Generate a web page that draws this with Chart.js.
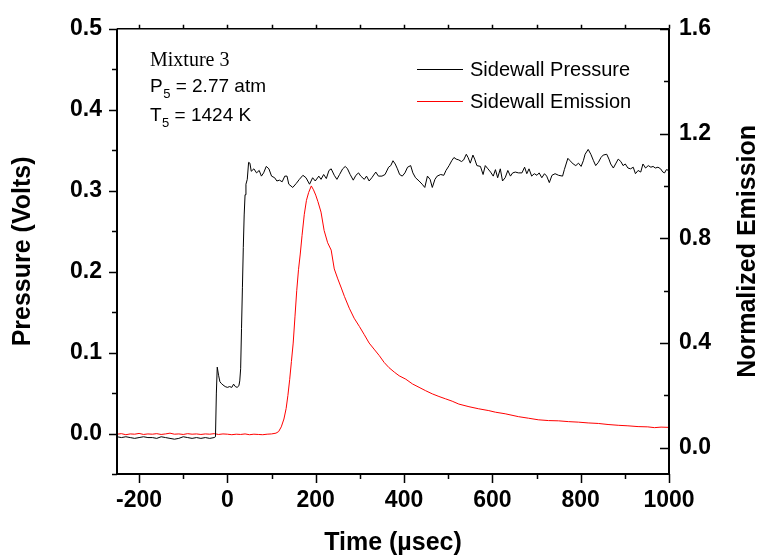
<!DOCTYPE html>
<html>
<head>
<meta charset="utf-8">
<script src="https://cdn.jsdelivr.net/npm/chart.js@4.4.1/dist/chart.umd.min.js"></script>
<style>
    html, body { margin: 0; padding: 0; background: #fff; }
</style>
</head>
<body>
<canvas id="shockChart" width="761" height="555"></canvas>
<script>
// 压力信号 (Volts)
const pressureTime = [-250,-240,-230,-220,-210,-200,-190,-180,-170,-160,-150,-140,-130,-120,-110,-100,-90,-80,-70,-60,-50,-40,-30,-27,
    -25,-23,-20,-17,-14,-10,-5,0,5,10,14,18,22,26,28,30,32,34,36,38,40,42,45,48,51,54,
    60,66,72,77,82,88,94,100,107,112,118,124,130,135,139,148,156,163,171,178,186,193,199,207,212,218,224,230,235,242,248,254,
    261,267,272,278,285,291,297,302,310,315,321,327,336,342,350,357,365,370,375,380,385,390,396,402,408,415,420,426,434,441,
    447,453,459,464,470,475,483,490,495,502,508,513,518,524,530,535,541,545,550,556,560,565,573,579,584,590,596,602,607,612,
    618,623,629,635,641,646,652,659,667,673,678,683,689,695,701,706,712,718,723,729,735,742,750,759,763,771,776,783,789,795,
    801,806,810,817,823,829,834,840,846,851,859,864,868,874,879,885,891,896,901,907,913,919,924,930,936,941,947,953,959,964,
    969,975,981,986,990,994,1000];
const pressureVolts = [-0.004,-0.005,-0.004,-0.005,-0.006,-0.005,-0.004,-0.005,-0.005,-0.006,-0.004,-0.005,-0.006,-0.007,-0.006,-0.004,-0.005,-0.006,-0.005,-0.006,-0.005,-0.006,-0.005,-0.004,
    0.050,0.082,0.072,0.064,0.062,0.060,0.058,0.057,0.058,0.057,0.061,0.058,0.057,0.059,0.065,0.080,0.130,0.180,0.230,0.270,0.295,0.308,0.314,0.335,0.334,0.324,
    0.327,0.322,0.325,0.318,0.322,0.330,0.327,0.318,0.316,0.312,0.313,0.311,0.318,0.318,0.308,0.304,0.309,0.314,0.319,0.316,0.308,0.316,0.312,0.318,0.314,0.320,0.315,0.325,0.327,0.319,0.314,0.320,
    0.327,0.330,0.327,0.320,0.313,0.319,0.322,0.318,0.314,0.318,0.312,0.316,0.323,0.318,0.318,0.320,0.329,0.331,0.337,0.333,0.327,0.320,0.318,0.322,0.329,0.331,0.322,0.316,0.312,0.308,
    0.304,0.318,0.314,0.304,0.314,0.318,0.320,0.319,0.325,0.331,0.337,0.341,0.339,0.338,0.336,0.338,0.345,0.341,0.334,0.344,0.339,0.331,0.330,0.320,0.331,0.327,0.323,0.318,0.326,0.316,
    0.327,0.312,0.316,0.325,0.318,0.322,0.323,0.322,0.322,0.329,0.321,0.327,0.318,0.321,0.319,0.322,0.316,0.321,0.318,0.310,0.319,0.321,0.319,0.318,0.326,0.340,0.337,0.333,0.331,0.334,
    0.330,0.337,0.345,0.351,0.345,0.337,0.331,0.335,0.341,0.344,0.345,0.339,0.333,0.328,0.333,0.339,0.336,0.331,0.333,0.328,0.327,0.329,0.321,0.325,0.323,0.333,0.328,0.331,0.329,0.330,
    0.328,0.329,0.327,0.323,0.322,0.326,0.325];

// 归一化发射信号
const emissionTime = [-250,-240,-230,-220,-210,-200,-190,-180,-170,-160,-150,-140,-130,-120,-110,-100,-90,-80,-70,-60,-50,-40,-30,-20,-10,
    0,10,20,30,40,50,60,70,80,90,100,110,116,122,128,133,137,141,145,149,153,157,161,165,169,174,179,184,190,195,200,205,212,219,227,
    235,242,250,258,265,276,287,299,310,321,332,344,355,366,378,389,404,419,434,449,464,479,494,509,524,547,569,592,607,629,
    659,682,704,727,750,772,795,817,840,862,885,907,930,952,967,982,1000];
const emissionNorm = [0.052,0.054,0.050,0.053,0.052,0.055,0.051,0.053,0.052,0.054,0.051,0.053,0.056,0.052,0.053,0.051,0.054,0.052,0.053,0.051,0.053,0.052,0.054,0.051,0.053,
    0.052,0.050,0.052,0.051,0.053,0.050,0.052,0.051,0.050,0.052,0.053,0.056,0.062,0.080,0.110,0.150,0.200,0.260,0.330,0.400,0.500,0.600,0.680,0.740,0.810,0.890,0.945,0.975,1.000,0.985,0.965,0.940,0.900,0.830,0.783,
    0.755,0.683,0.645,0.610,0.578,0.533,0.495,0.463,0.432,0.400,0.377,0.352,0.326,0.306,0.289,0.275,0.262,0.244,0.231,0.218,0.206,0.196,0.187,0.178,0.167,0.157,0.149,0.142,0.136,0.130,
    0.119,0.113,0.107,0.104,0.103,0.100,0.098,0.095,0.093,0.089,0.086,0.084,0.081,0.080,0.077,0.079,0.078];

// 坐标轴刻度
const timeTicks = [-200, 0, 200, 400, 600, 800, 1000];
const timeMinor = [-100, 100, 300, 500, 700, 900];
const pressureTicks = [0.0, 0.1, 0.2, 0.3, 0.4, 0.5];
const pressureMinor = [-0.05, 0.05, 0.15, 0.25, 0.35, 0.45];
const emissionTicks = [0.0, 0.4, 0.8, 1.2, 1.6];
const emissionMinor = [0.2, 0.6, 1.0, 1.4];

const SANS = '"Liberation Sans", Arial, Helvetica, sans-serif';
const SERIF = '"Liberation Serif", "Times New Roman", serif';

// 边框、刻度线、图例和注释
const framePlugin = {
    id: 'frame',
    afterDraw(chart) {
        const ctx = chart.ctx;
        const a = chart.chartArea;
        const sx = chart.scales.x, sl = chart.scales.yL, sr = chart.scales.yR;
        ctx.save();
        ctx.strokeStyle = '#000';
        ctx.lineWidth = 2;
        ctx.beginPath();
        ctx.moveTo(a.left, a.top); ctx.lineTo(a.left, a.bottom);
        ctx.lineTo(a.right, a.bottom); ctx.lineTo(a.right, a.top);
        ctx.stroke();
        ctx.lineWidth = 1.5;
        ctx.beginPath();
        ctx.moveTo(a.left, a.top); ctx.lineTo(a.right, a.top);

        timeTicks.concat(timeMinor).forEach(v => {
            const px = Math.round(sx.getPixelForValue(v)) + 0.5;
            const len = timeTicks.includes(v) ? 9 : 5;
            ctx.moveTo(px, a.bottom); ctx.lineTo(px, a.bottom + len);
            ctx.moveTo(px, a.top); ctx.lineTo(px, a.top - 4);
        });
        pressureTicks.concat(pressureMinor).forEach(v => {
            const py = Math.round(sl.getPixelForValue(v)) + 0.5;
            const len = pressureTicks.includes(v) ? 8 : 5;
            ctx.moveTo(a.left, py); ctx.lineTo(a.left - len, py);
        });
        emissionTicks.concat(emissionMinor).forEach(v => {
            const py = Math.round(sr.getPixelForValue(v)) + 0.5;
            const len = emissionTicks.includes(v) ? 9 : 5;
            ctx.moveTo(a.right, py); ctx.lineTo(a.right - len, py);
        });
        ctx.stroke();

        // 右侧轴标题 (自下而上)
        ctx.fillStyle = '#000';
        ctx.font = 'bold 25px ' + SANS;
        ctx.textAlign = 'center';
        ctx.textBaseline = 'middle';
        ctx.translate(748, (a.top + a.bottom) / 2);
        ctx.rotate(-Math.PI / 2);
        ctx.fillText('Normalized Emission', 0, 0);
        ctx.setTransform(1, 0, 0, 1, 0, 0);

        // 图例
        const items = chart.data.datasets;
        ctx.lineWidth = 1;
        ctx.font = '20px ' + SANS;
        ctx.textAlign = 'left';
        [69, 101].forEach((y, i) => {
            ctx.strokeStyle = items[i].borderColor;
            ctx.beginPath();
            ctx.moveTo(417, y + 0.5); ctx.lineTo(463, y + 0.5);
            ctx.stroke();
            ctx.fillText(items[i].label, 470, y + 1);
        });

        // 实验条件
        ctx.textBaseline = 'alphabetic';
        ctx.font = '20px ' + SERIF;
        ctx.fillText('Mixture 3', 150, 66);
        const sub = (main, rest, y) => {
            ctx.font = '19px ' + SANS;
            ctx.fillText(main, 150, y);
            let x = 150 + ctx.measureText(main).width + 0.5;
            ctx.font = '13px ' + SANS;
            ctx.fillText('5', x, y + 6);
            x += ctx.measureText('5').width;
            ctx.font = '19px ' + SANS;
            ctx.fillText(rest, x, y);
        };
        sub('P', ' = 2.77 atm', 92);
        sub('T', ' = 1424 K', 121);
        ctx.restore();
    }
};

const tickFont = { family: SANS, size: 23, weight: 'bold' };
const titleFont = { family: SANS, size: 25, weight: 'bold', lineHeight: 1 };

const ctx = document.getElementById('shockChart').getContext('2d');
const shockChart = new Chart(ctx, {
    type: 'line',
    data: {
        datasets: [{
            label: 'Sidewall Pressure',
            data: pressureTime.map((t, i) => ({ x: t, y: pressureVolts[i] })),
            yAxisID: 'yL',
            borderColor: '#000000',
            borderWidth: 1,
            pointRadius: 0,
            tension: 0
        }, {
            label: 'Sidewall Emission',
            data: emissionTime.map((t, i) => ({ x: t, y: emissionNorm[i] })),
            yAxisID: 'yR',
            borderColor: '#ff0000',
            borderWidth: 1,
            pointRadius: 0,
            tension: 0
        }]
    },
    options: {
        responsive: false,
        animation: false,
        layout: { padding: { top: 25, left: 0, right: 0, bottom: 0 } },
        plugins: { legend: { display: false }, tooltip: { enabled: false } },
        scales: {
            x: {
                type: 'linear',
                min: -250,
                max: 1000,
                afterBuildTicks: s => { s.ticks = timeTicks.map(v => ({ value: v })); },
                afterFit: s => { s.height = 81; },
                grid: { display: false, drawTicks: false },
                border: { display: false },
                ticks: { font: tickFont, color: '#000', padding: 13, maxRotation: 0, callback: v => String(v) },
                title: { display: true, text: 'Time (\u00b5sec)', font: titleFont, color: '#000', padding: { top: 0, bottom: -1 } }
            },
            yL: {
                type: 'linear',
                position: 'left',
                min: -0.05,
                max: 0.5,
                afterBuildTicks: s => { s.ticks = pressureTicks.map(v => ({ value: v })); },
                afterFit: s => { s.width = 117; },
                grid: { display: false, drawTicks: false },
                border: { display: false },
                ticks: { font: tickFont, color: '#000', padding: 15, callback: v => v.toFixed(1) },
                title: { display: true, text: 'Pressure (Volts)', font: titleFont, color: '#000', padding: { top: 11, bottom: 0 } }
            },
            yR: {
                type: 'linear',
                position: 'right',
                min: -0.1,
                max: 1.6,
                afterBuildTicks: s => { s.ticks = emissionTicks.map(v => ({ value: v })); },
                afterFit: s => { s.width = 92; },
                grid: { display: false, drawTicks: false },
                border: { display: false },
                ticks: { font: tickFont, color: '#000', padding: 10, callback: v => v.toFixed(1) }
            }
        }
    },
    plugins: [framePlugin]
});
</script>
</body>
</html>
